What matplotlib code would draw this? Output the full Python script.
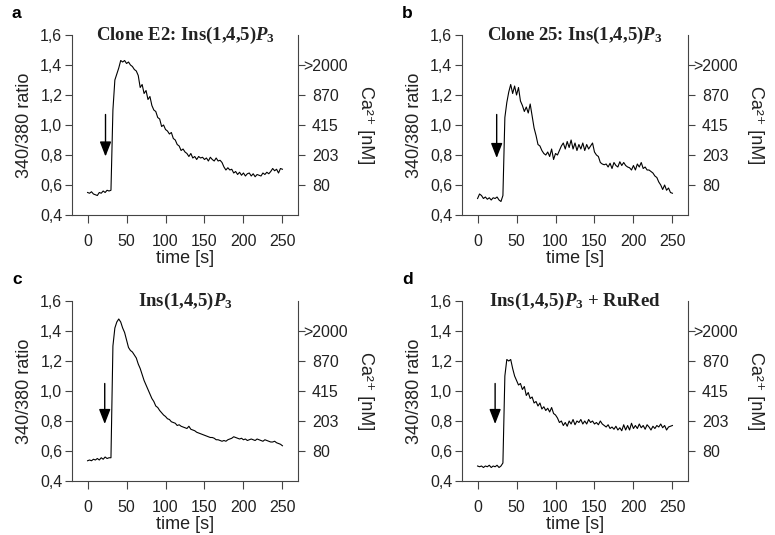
import numpy as np
import matplotlib
matplotlib.use('Agg')
import matplotlib.pyplot as plt
from matplotlib.transforms import ScaledTranslation

plt.rcParams['font.family'] = ['Liberation Sans Narrow', 'Liberation Sans', 'DejaVu Sans']
plt.rcParams['mathtext.fontset'] = 'custom'
plt.rcParams['mathtext.rm'] = 'Liberation Serif:bold'
plt.rcParams['mathtext.it'] = 'Liberation Serif:italic:bold'
plt.rcParams['mathtext.bf'] = 'Liberation Serif:bold'

# sampling times (s)
time_s = np.arange(0, 251, 2.5)

ratio_a = [0.55, 0.545, 0.555, 0.54, 0.535, 0.53, 0.55, 0.545, 0.56, 0.55,
           0.565, 0.56, 0.565, 1.10, 1.30, 1.34, 1.38, 1.43, 1.42, 1.43,
           1.41, 1.42, 1.40, 1.39, 1.37, 1.36, 1.33, 1.25, 1.27, 1.21,
           1.23, 1.17, 1.19, 1.13, 1.10, 1.09, 1.05, 1.04, 0.99, 1.00,
           0.97, 0.96, 0.94, 0.95, 0.91, 0.90, 0.87, 0.86, 0.83, 0.84,
           0.82, 0.81, 0.79, 0.81, 0.78, 0.79, 0.77, 0.79, 0.78, 0.785,
           0.77, 0.78, 0.76, 0.785, 0.77, 0.76, 0.78, 0.76, 0.765, 0.75,
           0.72, 0.70, 0.715, 0.70, 0.705, 0.68, 0.69, 0.67, 0.685, 0.665,
           0.68, 0.66, 0.675, 0.68, 0.66, 0.675, 0.655, 0.67, 0.665, 0.66,
           0.68, 0.67, 0.685, 0.675, 0.69, 0.71, 0.695, 0.705, 0.68, 0.71,
           0.705]

ratio_b = [0.51, 0.54, 0.53, 0.51, 0.52, 0.505, 0.515, 0.50, 0.515, 0.51,
           0.52, 0.50, 0.49, 0.53, 1.05, 1.15, 1.22, 1.27, 1.21, 1.26,
           1.20, 1.25, 1.16, 1.13, 1.09, 1.12, 1.08, 1.14, 1.06, 0.98,
           0.93, 0.87, 0.86, 0.83, 0.81, 0.80, 0.82, 0.79, 0.84, 0.77,
           0.81, 0.80, 0.83, 0.86, 0.88, 0.84, 0.89, 0.85, 0.90, 0.84,
           0.88, 0.83, 0.87, 0.84, 0.88, 0.83, 0.87, 0.84, 0.86, 0.88,
           0.82, 0.80, 0.79, 0.75, 0.74, 0.735, 0.74, 0.72, 0.745, 0.71,
           0.75, 0.73, 0.72, 0.755, 0.73, 0.75, 0.73, 0.72, 0.715, 0.70,
           0.73, 0.70, 0.74, 0.72, 0.75, 0.71, 0.72, 0.70, 0.70, 0.69,
           0.68, 0.66, 0.65, 0.62, 0.60, 0.57, 0.60, 0.565, 0.58, 0.55,
           0.545]

ratio_c = [0.535, 0.54, 0.535, 0.545, 0.54, 0.55, 0.54, 0.555, 0.545, 0.56,
           0.55, 0.555, 0.555, 1.30, 1.42, 1.46, 1.48, 1.46, 1.42, 1.39,
           1.34, 1.29, 1.27, 1.26, 1.24, 1.22, 1.18, 1.15, 1.11, 1.07,
           1.04, 1.01, 0.98, 0.95, 0.93, 0.90, 0.89, 0.87, 0.855, 0.84,
           0.83, 0.815, 0.81, 0.795, 0.79, 0.785, 0.77, 0.775, 0.765, 0.76,
           0.755, 0.75, 0.765, 0.745, 0.74, 0.735, 0.725, 0.72, 0.715, 0.71,
           0.705, 0.70, 0.695, 0.69, 0.69, 0.685, 0.675, 0.675, 0.67, 0.665,
           0.67, 0.665, 0.675, 0.68, 0.685, 0.695, 0.69, 0.685, 0.68, 0.685,
           0.675, 0.68, 0.67, 0.675, 0.68, 0.675, 0.67, 0.68, 0.675, 0.67,
           0.665, 0.675, 0.67, 0.665, 0.66, 0.66, 0.665, 0.655, 0.65, 0.645,
           0.635]

ratio_d = [0.50, 0.495, 0.50, 0.49, 0.50, 0.495, 0.505, 0.49, 0.50, 0.495,
           0.505, 0.49, 0.50, 0.52, 1.10, 1.21, 1.20, 1.21, 1.15, 1.10,
           1.07, 1.04, 1.05, 1.01, 1.03, 0.97, 0.99, 0.95, 0.96, 0.92,
           0.93, 0.90, 0.92, 0.88, 0.895, 0.87, 0.885, 0.86, 0.89, 0.85,
           0.84, 0.82, 0.79, 0.80, 0.77, 0.79, 0.765, 0.80, 0.78, 0.81,
           0.775, 0.80, 0.79, 0.81, 0.78, 0.80, 0.78, 0.81, 0.79, 0.80,
           0.78, 0.79, 0.775, 0.80, 0.78, 0.77, 0.76, 0.775, 0.75, 0.76,
           0.745, 0.765, 0.74, 0.755, 0.735, 0.775, 0.74, 0.77, 0.74, 0.785,
           0.75, 0.77, 0.75, 0.78, 0.755, 0.77, 0.745, 0.775, 0.76, 0.74,
           0.765, 0.75, 0.77, 0.76, 0.78, 0.755, 0.77, 0.74, 0.76, 0.765,
           0.77]

traces = [ratio_a, ratio_b, ratio_c, ratio_d]
panel_letters = ['a', 'b', 'c', 'd']
titles = [r'Clone E2: Ins(1,4,5)$P_3$', r'Clone 25: Ins(1,4,5)$P_3$',
          r'Ins(1,4,5)$P_3$', r'Ins(1,4,5)$P_3$ + RuRed']
arrow_t = [23, 24.5, 22, 22.5]
arrow_top = [1.07, 1.07, 1.05, 1.05]
arrow_tip = [0.79, 0.78, 0.78, 0.78]

left_ticks = [0.4, 0.6, 0.8, 1.0, 1.2, 1.4, 1.6]
left_labels = ['0,4', '0,6', '0,8', '1,0', '1,2', '1,4', '1,6']
ca_ticks = [0.6, 0.8, 1.0, 1.2, 1.4]
ca_labels = ['80', '203', '415', '870', '>2000']
x_ticks = [0, 50, 100, 150, 200, 250]

fig = plt.figure(figsize=(7.75, 5.35), dpi=100)

W, H = 775, 535
boxes = [(72, 35), (462, 35), (72, 301), (462, 301)]
letter_pos = [(12, 14), (402, 14), (12, 280), (402, 280)]
ink = '#222222'
axc = '#444444'

for i in range(4):
    lx, ty = boxes[i]
    ax = fig.add_axes([lx / W, 1 - (ty + 180) / H, 226 / W, 180 / H])
    ax.plot(time_s, traces[i], color='k', lw=0.8)
    ax.set_xlim(-20, 270)
    ax.set_ylim(0.4, 1.6)
    ax.set_yticks(left_ticks)
    ax.set_yticklabels(left_labels)
    ax.set_xticks(x_ticks)
    ax.spines['top'].set_visible(False)
    ax.spines['right'].set_visible(False)
    for s in ['left', 'bottom']:
        ax.spines[s].set_color(axc)
        ax.spines[s].set_linewidth(0.8)
    ax.tick_params(direction='out', length=5, width=0.8, colors=axc,
                   labelcolor=ink, labelsize=11.5)
    ax.tick_params(axis='x', length=5.5, pad=8)
    ax.tick_params(axis='y', pad=2)
    ax.set_ylabel('340/380 ratio', fontsize=13, color=ink, labelpad=5)
    ax.set_xlabel('time [s]', fontsize=13, color=ink, labelpad=1)

    ax2 = ax.twinx()
    ax2.set_ylim(0.4, 1.6)
    ax2.set_yticks(ca_ticks)
    ax2.set_yticklabels(ca_labels)
    for s in ['top', 'left', 'bottom']:
        ax2.spines[s].set_visible(False)
    ax2.spines['right'].set_color(axc)
    ax2.spines['right'].set_linewidth(0.8)
    ax2.tick_params(direction='out', length=5, width=0.8, colors=axc,
                    labelcolor=ink, labelsize=11.5, pad=5)
    # ">" of ">2000" hangs into the tick mark
    lab = ax2.get_yticklabels()[-1]
    lab.set_transform(lab.get_transform() +
                      ScaledTranslation(-6 / 72, 0, fig.dpi_scale_trans))
    ax2.set_ylabel('Ca²⁺ [nM]', rotation=-90, va='bottom', fontsize=13,
                   color=ink, labelpad=6)

    ax.annotate('', xy=(arrow_t[i], arrow_tip[i]),
                xytext=(arrow_t[i], arrow_top[i]),
                arrowprops=dict(arrowstyle='-|>,head_length=0.9,head_width=0.35',
                                color='k', lw=1.0, shrinkA=0, shrinkB=0))

    ax.text(0.5, 0.975, titles[i], transform=ax.transAxes, ha='center',
            va='baseline', fontsize=13.5, fontweight='bold',
            family='Liberation Serif', color=ink)

    fig.text(letter_pos[i][0] / W, 1 - letter_pos[i][1] / H, panel_letters[i],
             fontsize=12.5, fontweight='bold', va='center', ha='left',
             color='k', family='Liberation Sans')

fig.savefig('out.png', dpi=100)
